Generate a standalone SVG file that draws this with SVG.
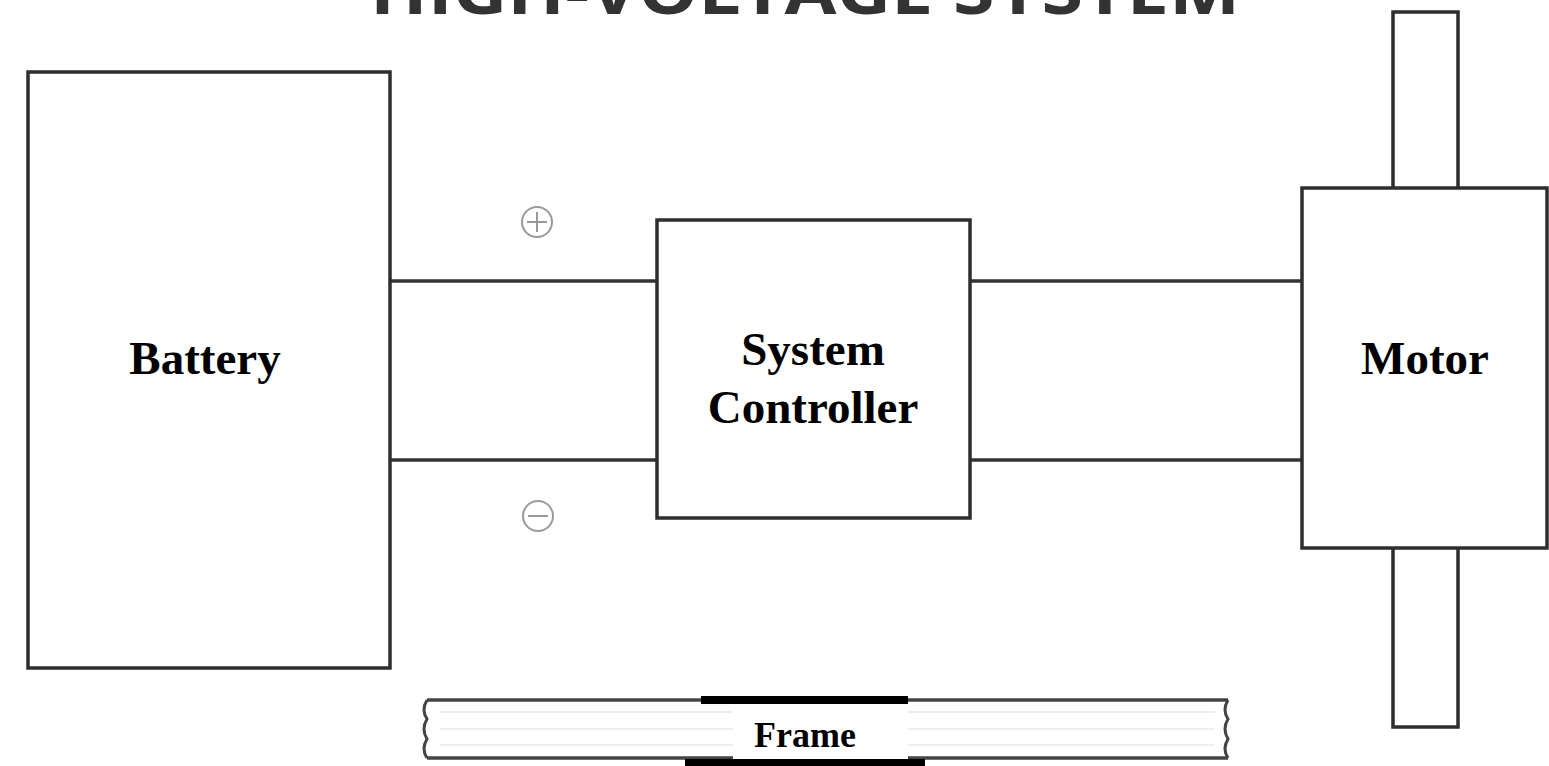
<svg xmlns="http://www.w3.org/2000/svg" width="1549" height="766" viewBox="0 0 1549 766">
<style>
.box{fill:#fff;stroke:#2e2e2e;stroke-width:3.5}
.wire{stroke:#333;stroke-width:3.5;fill:none}
.lbl{font-family:"Liberation Serif",serif;font-weight:bold;font-size:47px;fill:#000;text-anchor:middle}
.sym{fill:none;stroke:#999;stroke-width:2}
</style>
<rect width="1549" height="766" fill="#fff"/>
<text x="370" y="14" font-family="'Open Sans',sans-serif" font-weight="bold" font-size="64" fill="#333" textLength="870" lengthAdjust="spacingAndGlyphs">HIGH-VOLTAGE SYSTEM</text>
<g id="connectors">
<line class="wire" x1="390" y1="281" x2="657" y2="281"/>
<line class="wire" x1="390" y1="460" x2="657" y2="460"/>
<line class="wire" x1="970" y1="281" x2="1302" y2="281"/>
<line class="wire" x1="970" y1="460" x2="1302" y2="460"/>
</g>
<g id="battery">
<rect class="box" x="28" y="72" width="362" height="596"/>
<text class="lbl" x="205" y="374">Battery</text>
</g>
<g id="plus">
<circle class="sym" cx="537" cy="222" r="15"/>
<line class="sym" x1="527" y1="222" x2="547" y2="222" stroke="#666"/>
<line class="sym" x1="537" y1="212" x2="537" y2="232" stroke="#666"/>
</g>
<g id="minus">
<circle class="sym" cx="538" cy="516" r="15"/>
<line class="sym" x1="528" y1="516" x2="548" y2="516" stroke="#777"/>
</g>
<g id="controller">
<rect class="box" x="657" y="220" width="313" height="298"/>
<text class="lbl" x="813" y="365">System</text>
<text class="lbl" x="813" y="423">Controller</text>
</g>
<g id="motor">
<rect class="box" x="1393" y="12" width="65" height="200"/>
<rect class="box" x="1393" y="520" width="65" height="207"/>
<rect class="box" x="1302" y="188" width="245" height="360"/>
<text class="lbl" x="1425" y="374">Motor</text>
</g>
<g id="frame">
<path d="M427 700 H1228 M427 758 H1228" stroke="#444" stroke-width="3.5" fill="none"/>
<path d="M427 700 q-6 10 0 19 q-6 10 0 20 q-6 10 0 19 M1228 700 q-6 10 0 19 q-6 10 0 20 q-6 10 0 19" stroke="#444" stroke-width="3" fill="none"/>
<path d="M440 712 H1215 M440 729 H1215 M440 745 H1215" stroke="#ddd" stroke-width="1" fill="none"/>
<rect x="701" y="696" width="207" height="8" fill="#000"/>
<rect x="685" y="759" width="240" height="7" fill="#000"/>
<rect x="733" y="704" width="175" height="55" fill="#fff"/>
<text x="805" y="747" font-family="'Liberation Serif',serif" font-weight="bold" font-size="36" text-anchor="middle">Frame</text>
</g>
</svg>
